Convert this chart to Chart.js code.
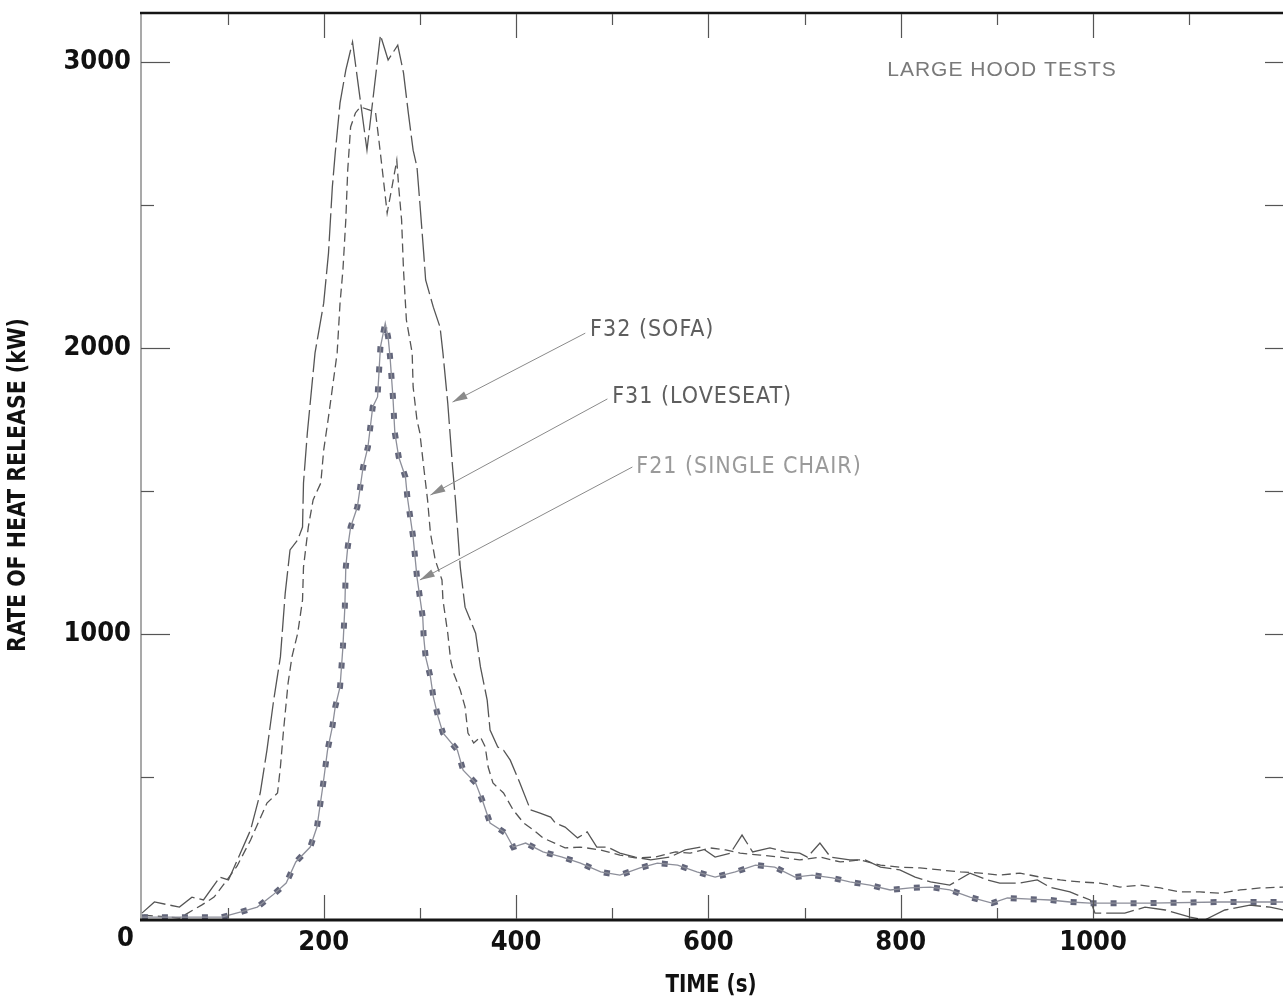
<!DOCTYPE html>
<html><head><meta charset="utf-8">
<script src="https://cdn.jsdelivr.net/npm/chart.js@4.4.1/dist/chart.umd.min.js"></script>
<style>html,body{margin:0;padding:0;background:#fff;overflow:hidden}</style>
</head><body>
<canvas id="c" width="1283" height="1002"></canvas>
<script>
// ---- data (time in s, rate of heat release in kW) ----
const sofaTime = [11,24,50,63,75,92,101,107,124,134,141,148,155,160,165,173,178,179,183,186,191,200,205,209,212,217,223,230,245,259,267,277,283,288,293,297,300,304,306,314,321,324,329,334,337,342,347,358,363,370,373,381,387,394,404,415,425,436,441,451,464,474,484,495,508,524,540,560,576,592,607,623,635,646,664,680,695,703,716,727,747,763,779,799,815,831,851,872,890,903,924,942,955,976,997,1002,1033,1054,1075,1101,1116,1137,1163,1184,1198];
const sofaHRR = [24,63,45,80,70,150,140,185,315,444,594,769,920,1143,1294,1329,1374,1528,1703,1808,1983,2157,2332,2563,2682,2857,2972,3070,2692,3094,3007,3059,2962,2822,2692,2633,2507,2332,2238,2143,2073,1983,1808,1584,1469,1234,1094,1003,885,769,664,605,594,559,479,385,374,360,339,325,287,308,255,255,234,220,210,220,245,255,220,234,297,238,252,238,234,220,269,220,210,210,185,175,150,133,122,164,140,129,129,140,115,98,70,24,24,45,35,10,0,35,52,45,35];

const loveTime = [13,50,73,86,98,110,124,141,152,155,158,163,167,173,178,179,184,189,197,200,205,214,217,220,223,225,228,233,238,248,254,257,261,266,271,276,278,281,283,286,292,293,297,300,304,308,311,316,323,324,329,332,335,342,347,350,356,363,368,371,376,387,397,408,418,428,451,467,488,508,524,545,566,581,602,618,633,654,675,695,716,737,758,779,799,820,841,862,883,903,924,945,966,987,1007,1028,1049,1070,1090,1111,1132,1153,1174,1198];
const loveHRR = [17,7,52,80,133,189,280,409,444,535,654,829,920,1003,1119,1234,1374,1469,1528,1643,1759,1983,2157,2273,2448,2622,2773,2822,2843,2832,2822,2738,2622,2472,2563,2657,2563,2448,2273,2098,1983,1864,1748,1703,1584,1469,1353,1259,1189,1119,1003,909,864,804,745,654,619,640,605,535,479,444,385,339,315,287,252,255,245,227,217,220,238,234,252,245,234,227,220,210,220,203,210,192,185,182,175,168,164,157,164,150,140,133,129,115,122,112,98,98,94,105,112,115];

const chairTime = [11,33,54,75,94,114,131,147,161,171,186,193,199,204,209,212,217,220,222,223,225,228,235,238,241,246,251,256,259,264,267,269,272,274,278,285,287,290,293,295,297,300,303,304,306,311,314,319,324,339,345,358,366,373,389,397,410,428,448,467,488,508,529,547,568,588,607,628,649,669,690,708,729,747,768,789,810,831,851,872,895,911,935,955,976,997,1059,1132,1198];
const chairHRR = [10,10,10,10,10,28,45,87,129,203,255,325,465,594,675,745,815,955,1094,1234,1304,1374,1444,1514,1584,1654,1794,1829,2003,2087,2038,1969,1829,1703,1619,1549,1479,1409,1339,1269,1199,1129,1059,990,920,850,780,710,654,594,524,479,409,339,304,255,269,238,220,199,168,157,182,199,192,168,150,168,192,185,150,157,147,133,122,105,112,115,105,80,59,77,73,70,63,59,59,63,63];

const xTickLabels = [200,400,600,800,1000];
const yTickLabels = [1000,2000,3000];
const xTickMarks = [100,200,300,400,500,600,700,800,900,1000,1100];
const yTickMarks = [500,1000,1500,2000,2500,3000];

const seriesNames = ['F32 (SOFA)','F31 (LOVESEAT)','F21 (SINGLE CHAIR)'];
// label anchor [time, kW] and arrow [fromTime, fromKW, toTime, toKW]
const labelAt = [[477,2063],[500,1829],[525,1584]];
const arrowAt = [[472,2052,334,1811],[495,1822,311,1486],[521,1584,300,1189]];
const noteText = 'LARGE HOOD TESTS';
const noteAt = [786,2972];

const pts = (t,v) => t.map((x,i)=>({x, y:v[i]}));

const COND = "'DejaVu Sans Condensed','Liberation Sans Narrow',sans-serif";

const deco = {
  id:'deco',
  afterDatasetsDraw(chart){
    const {ctx, chartArea:a, scales:{x,y}} = chart;
    ctx.save();
    const ln=(x1,y1,x2,y2)=>{ctx.beginPath();ctx.moveTo(x1,y1);ctx.lineTo(x2,y2);ctx.stroke();};
    // frame
    ctx.strokeStyle='#8c8c8c'; ctx.lineWidth=1.5; ln(a.left+1,a.top,a.left+1,a.bottom);
    ctx.strokeStyle='#151515'; ctx.lineWidth=2.5; ln(a.left,a.top+1,a.right,a.top+1);
    ctx.lineWidth=3; ln(a.left,a.bottom,a.right,a.bottom);
    // x tick marks (top & bottom)
    ctx.strokeStyle='#555'; ctx.lineWidth=1.2;
    xTickMarks.forEach(v=>{
      const px=Math.round(x.getPixelForValue(v))+0.5;
      const L = v%200===0 ? 24 : 11;
      ln(px,a.top+2,px,a.top+2+L);
      ln(px,a.bottom-1,px,a.bottom-1-L);
    });
    // y tick marks (left & right)
    yTickMarks.forEach(v=>{
      const py=Math.round(y.getPixelForValue(v))+0.5;
      const L = v%1000===0 ? 29 : 13;
      ln(a.left+1,py,a.left+1+L,py);
      ln(a.right,py,a.right-18,py);
    });
    // origin label
    ctx.fillStyle='#111'; ctx.font="bold 27px "+COND; ctx.textAlign='right'; ctx.textBaseline='middle';
    ctx.fillText('0', a.left-6, a.bottom+19);
    // axis titles (slightly condensed)
    ctx.font="bold 24px "+COND; ctx.textAlign='center';
    ctx.save(); ctx.translate(711,986); ctx.scale(0.92,1); ctx.fillText('TIME (s)',0,0); ctx.restore();
    ctx.save(); ctx.translate(19,485); ctx.rotate(-Math.PI/2); ctx.scale(0.95,1);
    ctx.fillText('RATE OF HEAT RELEASE (kW)',0,0); ctx.restore();
    // note
    ctx.fillStyle='#7a7a7a'; ctx.font="21px 'Liberation Sans',Arial,sans-serif"; ctx.textAlign='left';
    ctx.letterSpacing='1px';
    ctx.fillText(noteText, x.getPixelForValue(noteAt[0]), y.getPixelForValue(noteAt[1]));
    // series labels + arrows
    const cols=['#5e5e5e','#5e5e5e','#9a9a9a'];
    ctx.font="23px "+COND; ctx.letterSpacing='1px';
    seriesNames.forEach((s,i)=>{
      ctx.fillStyle=cols[i];
      ctx.fillText(s, x.getPixelForValue(labelAt[i][0]), y.getPixelForValue(labelAt[i][1]));
      const [t1,v1,t2,v2]=arrowAt[i];
      const x1=x.getPixelForValue(t1), y1=y.getPixelForValue(v1), x2=x.getPixelForValue(t2), y2=y.getPixelForValue(v2);
      ctx.strokeStyle='#8a8a8a'; ctx.lineWidth=1; ln(x1,y1,x2,y2);
      const ang=Math.atan2(y2-y1,x2-x1), L=15, W=4;
      ctx.fillStyle='#8a8a8a'; ctx.beginPath(); ctx.moveTo(x2,y2);
      ctx.lineTo(x2-L*Math.cos(ang)+W*Math.sin(ang), y2-L*Math.sin(ang)-W*Math.cos(ang));
      ctx.lineTo(x2-L*Math.cos(ang)-W*Math.sin(ang), y2-L*Math.sin(ang)+W*Math.cos(ang));
      ctx.closePath(); ctx.fill();
    });
    ctx.restore();
  }
};

new Chart(document.getElementById('c'), {
  type:'line',
  data:{datasets:[
    {label:seriesNames[2]+' line', data:pts(chairTime,chairHRR), borderColor:'#8d8f9a', borderWidth:1.3, pointRadius:0, tension:0},
    {label:seriesNames[2], data:pts(chairTime,chairHRR), borderColor:'#62657a', borderWidth:6, borderDash:[6,14], borderCapStyle:'butt', pointRadius:0, tension:0},
    {label:seriesNames[1], data:pts(loveTime,loveHRR), borderColor:'#555', borderWidth:1.3, borderDash:[9,5], pointRadius:0, tension:0},
    {label:seriesNames[0], data:pts(sofaTime,sofaHRR), borderColor:'#555', borderWidth:1.3, borderDash:[28,5], pointRadius:0, tension:0}
  ]},
  options:{
    responsive:false, animation:false, devicePixelRatio:1,
    layout:{padding:{top:12,right:0,left:0,bottom:0}},
    plugins:{legend:{display:false}, tooltip:{enabled:false}},
    scales:{
      x:{type:'linear', min:9, max:1197.5, border:{display:false}, grid:{display:false, drawTicks:false},
        afterBuildTicks:s=>{s.ticks=xTickLabels.map(v=>({value:v}));},
        afterFit:s=>{s.height=82; s.paddingLeft=0; s.paddingRight=0;},
        ticks:{color:'#111', padding:7, maxRotation:0, autoSkip:false, callback:v=>String(v),
          font:{family:COND, weight:'bold', size:27}}},
      y:{type:'linear', min:0, max:3175, border:{display:false}, grid:{display:false, drawTicks:false},
        afterBuildTicks:s=>{s.ticks=yTickLabels.map(v=>({value:v}));},
        afterFit:s=>{s.width=140; s.paddingTop=0; s.paddingBottom=0;},
        ticks:{color:'#111', padding:9, autoSkip:false, callback:v=>String(v),
          font:{family:COND, weight:'bold', size:27}}}
    }
  },
  plugins:[deco]
});
</script>
</body></html>
